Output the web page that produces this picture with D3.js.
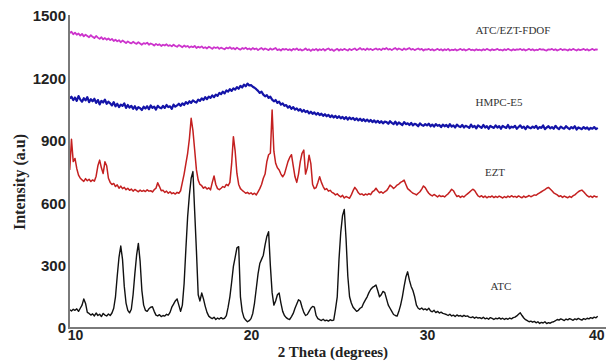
<!DOCTYPE html>
<html>
<head>
<meta charset="utf-8">
<script src="https://cdn.jsdelivr.net/npm/d3@7"></script>
<style>
  html, body { margin: 0; padding: 0; background: #fff; }
  svg { display: block; }
</style>
</head>
<body>
<svg id="chart" width="606" height="362"></svg>
<script>
// ---------- DATA ----------
const twoTheta = [
  9.7,9.8,9.9,
  10.0,10.1,10.2,10.3,10.4,10.5,10.6,10.7,10.8,10.9,
  11.0,11.1,11.2,11.3,11.4,11.5,11.6,11.7,11.8,11.9,
  12.0,12.1,12.2,12.3,12.4,12.5,12.6,12.7,12.8,12.9,
  13.0,13.1,13.2,13.3,13.4,13.5,13.6,13.7,13.8,13.9,
  14.0,14.1,14.2,14.3,14.4,14.5,14.6,14.7,14.8,14.9,
  15.0,15.1,15.2,15.3,15.4,15.5,15.6,15.7,15.8,15.9,
  16.0,16.1,16.2,16.3,16.4,16.5,16.6,16.7,16.8,16.9,
  17.0,17.1,17.2,17.3,17.4,17.5,17.6,17.7,17.8,17.9,
  18.0,18.1,18.2,18.3,18.4,18.5,18.6,18.7,18.8,18.9,
  19.0,19.1,19.2,19.3,19.4,19.5,19.6,19.7,19.8,19.9,
  20.0,20.1,20.2,20.3,20.4,20.5,20.6,20.7,20.8,20.9,
  21.0,21.1,21.2,21.3,21.4,21.5,21.6,21.7,21.8,21.9,
  22.0,22.1,22.2,22.3,22.4,22.5,22.6,22.7,22.8,22.9,
  23.0,23.1,23.2,23.3,23.4,23.5,23.6,23.7,23.8,23.9,
  24.0,24.1,24.2,24.3,24.4,24.5,24.6,24.7,24.8,24.9,
  25.0,25.1,25.2,25.3,25.4,25.5,25.6,25.7,25.8,25.9,
  26.0,26.1,26.2,26.3,26.4,26.5,26.6,26.7,26.8,26.9,
  27.0,27.1,27.2,27.3,27.4,27.5,27.6,27.7,27.8,27.9,
  28.0,28.1,28.2,28.3,28.4,28.5,28.6,28.7,28.8,28.9,
  29.0,29.1,29.2,29.3,29.4,29.5,29.6,29.7,29.8,29.9,
  30.0,30.1,30.2,30.3,30.4,30.5,30.6,30.7,30.8,30.9,
  31.0,31.1,31.2,31.3,31.4,31.5,31.6,31.7,31.8,31.9,
  32.0,32.1,32.2,32.3,32.4,32.5,32.6,32.7,32.8,32.9,
  33.0,33.1,33.2,33.3,33.4,33.5,33.6,33.7,33.8,33.9,
  34.0,34.1,34.2,34.3,34.4,34.5,34.6,34.7,34.8,34.9,
  35.0,35.1,35.2,35.3,35.4,35.5,35.6,35.7,35.8,35.9,
  36.0,36.1,36.2,36.3,36.4,36.5,36.6,36.7,36.8,36.9,
  37.0,37.1,37.2,37.3,37.4,37.5,37.6,37.7,37.8,37.9,
  38.0,38.1,38.2,38.3,38.4,38.5,38.6,38.7,38.8,38.9,
  39.0,39.1,39.2,39.3,39.4,39.5,39.6,39.7
];

const atc = [
  88,82,90,
  85,92,80,95,110,140,118,75,70,62,
  68,58,72,60,66,55,70,62,58,67,
  60,72,95,150,250,340,394,330,200,120,
  85,73,90,160,260,350,407,320,180,110,
  85,80,92,100,102,80,62,58,64,55,
  60,57,66,62,75,100,115,130,140,110,
  80,110,214,380,535,640,720,752,560,370,
  160,130,168,140,104,75,57,50,45,52,
  41,48,43,50,44,47,60,100,150,220,
  296,340,385,391,150,80,50,38,30,35,
  45,70,120,190,260,310,330,350,400,440,
  463,300,170,110,130,160,168,120,80,60,
  50,44,41,55,70,95,115,136,130,100,
  75,60,65,80,95,104,100,60,45,40,
  36,42,35,38,33,40,36,38,90,150,
  330,460,540,570,430,250,150,120,100,90,
  80,85,95,100,120,135,150,170,185,195,
  200,207,180,150,160,176,170,140,110,95,
  80,65,60,57,80,110,150,200,245,270,
  230,200,180,150,110,95,90,96,88,92,
  86,95,82,78,85,74,80,72,76,70,
  68,65,60,66,58,62,55,63,57,60,
  55,61,56,58,52,50,54,47,52,48,
  50,45,52,44,48,42,50,46,41,47,
  44,49,43,47,41,46,42,48,44,50,
  52,58,66,73,60,48,40,35,30,33,
  28,32,25,30,22,27,24,30,21,26,
  23,28,30,35,41,38,44,40,36,43,
  39,45,41,37,44,40,46,42,38,45,
  41,47,44,50,46,52,49,57
];

const ezt = [
  760,907,800,
  815,767,735,720,712,705,718,708,715,704,
  712,706,730,780,807,770,743,799,780,720,
  700,690,695,680,688,672,682,670,676,665,
  672,662,668,658,666,660,655,663,657,662,
  656,664,658,660,654,665,672,698,680,660,
  662,652,658,648,655,646,650,644,652,648,
  660,700,740,790,840,910,1008,950,856,760,
  711,690,684,672,678,668,674,664,700,731,
  690,670,665,672,680,676,690,684,700,790,
  920,850,743,690,670,662,655,648,652,645,
  650,642,648,640,655,670,690,720,740,800,
  833,840,1048,850,792,770,760,740,727,740,
  770,800,820,833,780,727,700,740,800,840,
  855,740,770,831,790,690,670,675,700,727,
  700,680,665,670,658,662,652,648,640,645,
  636,630,638,625,632,628,624,640,660,676,
  665,650,642,645,638,644,640,646,641,655,
  660,672,660,650,655,648,655,660,672,687,
  680,671,678,687,692,700,705,711,690,670,
  663,655,648,645,640,648,655,668,683,675,
  660,648,640,635,642,636,630,638,632,635,
  630,638,645,655,667,660,645,632,636,628,
  634,630,638,645,652,660,667,662,648,635,
  630,636,628,634,626,632,629,635,627,633,
  628,634,630,625,632,627,634,629,636,630,
  633,628,635,630,626,634,628,632,637,631,
  635,640,638,645,650,655,660,665,672,676,
  668,660,650,645,640,632,636,628,634,630,
  626,633,628,636,640,648,655,660,663,655,
  645,636,630,634,628,635,630,632
];

const hmpc = [
  1104,1112,1096,
  1108,1092,1115,1098,1088,1105,1094,1110,1086,1100,
  1090,1102,1082,1096,1075,1092,1084,1098,1078,1088,
  1080,1070,1086,1066,1078,1062,1074,1068,1080,1058,
  1072,1060,1068,1054,1066,1050,1062,1057,1048,1064,
  1055,1066,1052,1070,1058,1064,1050,1068,1060,1056,
  1068,1058,1072,1062,1066,1054,1074,1064,1070,1078,
  1068,1080,1072,1086,1078,1090,1082,1094,1088,1084,
  1098,1092,1104,1096,1110,1100,1112,1106,1118,1110,
  1122,1116,1130,1124,1136,1128,1142,1136,1148,1140,
  1152,1146,1158,1150,1164,1156,1170,1162,1175,1166,
  1168,1160,1155,1148,1140,1130,1136,1122,1114,1120,
  1106,1112,1098,1090,1096,1082,1088,1074,1080,1068,
  1072,1060,1066,1054,1062,1050,1056,1045,1052,1040,
  1048,1038,1044,1032,1040,1030,1036,1026,1034,1024,
  1030,1020,1028,1018,1025,1014,1022,1012,1020,1010,
  1018,1008,1015,1005,1014,1002,1012,1004,1010,1000,
  1008,998,1006,996,1004,994,1002,992,1000,990,
  998,988,996,986,994,984,992,990,982,994,
  986,980,992,978,988,982,976,990,980,984,
  976,986,974,982,978,970,984,976,972,980,
  974,982,970,978,968,980,972,976,966,978,
  970,976,966,980,968,974,964,978,970,966,
  976,964,972,968,962,978,966,972,960,974,
  968,962,976,964,970,958,972,966,962,974,
  964,970,958,972,966,962,976,960,968,964,
  972,958,966,974,962,968,956,970,964,960,
  968,962,972,958,966,962,974,956,964,970,
  960,966,958,972,962,956,968,962,958,970,
  962,956,966,960,970,954,964,960,956,966,
  958,964,954,962,958,966,956,962
];

const fdof = [
  1418,1424,1412,
  1420,1410,1416,1406,1414,1402,1410,1404,1398,1408,
  1400,1394,1404,1396,1390,1398,1388,1394,1386,1392,
  1384,1390,1380,1386,1378,1384,1374,1382,1376,1370,
  1378,1372,1368,1376,1370,1366,1374,1368,1362,1370,
  1366,1372,1362,1368,1364,1358,1366,1360,1364,1356,
  1362,1358,1364,1356,1360,1354,1362,1356,1352,1360,
  1356,1350,1358,1352,1356,1348,1354,1350,1356,1346,
  1352,1348,1354,1346,1350,1344,1352,1348,1342,1350,
  1346,1350,1342,1348,1344,1340,1348,1344,1350,1342,
  1346,1340,1348,1342,1338,1346,1342,1348,1340,1344,
  1338,1346,1340,1344,1336,1342,1346,1338,1344,1340,
  1336,1344,1338,1342,1346,1336,1340,1334,1342,1338,
  1342,1336,1340,1334,1342,1338,1344,1336,1340,1334,
  1338,1344,1336,1340,1332,1340,1336,1342,1334,1340,
  1336,1342,1334,1340,1344,1336,1340,1332,1338,1342,
  1334,1340,1336,1342,1338,1334,1342,1336,1340,1344,
  1336,1340,1346,1338,1342,1336,1344,1338,1342,1336,
  1340,1344,1338,1342,1336,1344,1340,1346,1338,1342,
  1336,1342,1346,1338,1344,1340,1336,1344,1338,1342,
  1346,1338,1342,1336,1340,1344,1338,1342,1334,1340,
  1338,1342,1336,1340,1334,1338,1342,1336,1340,1334,
  1340,1336,1342,1334,1338,1336,1340,1334,1338,1342,
  1336,1340,1334,1338,1342,1336,1338,1334,1340,1336,
  1338,1334,1340,1336,1342,1338,1334,1340,1336,1338,
  1342,1336,1338,1334,1340,1336,1342,1338,1334,1340,
  1336,1340,1338,1342,1336,1340,1334,1338,1342,1336,
  1340,1334,1338,1336,1342,1338,1340,1336,1334,1340,
  1338,1342,1336,1340,1334,1338,1342,1336,1340,1338,
  1334,1340,1336,1342,1338,1334,1340,1336,1338,1342,
  1336,1340,1334,1338,1342,1336,1340,1338
];

const seriesNames  = ["ATC/EZT-FDOF", "HMPC-E5", "EZT", "ATC"];
const seriesColors = ["#cc33cc", "#1414a8", "#c42020", "#111111"];
const seriesWidths = [1.8, 2.2, 1.5, 1.4];
const xTicks = [10, 20, 30, 40];
const yTicks = [0, 300, 600, 900, 1200, 1500];
const xTitle = "2 Theta (degrees)";
const yTitle = "Intensity (a.u)";

// ---------- CHART ----------
const svg = d3.select("#chart");
const x = d3.scaleLinear().domain([10, 40]).range([75, 603]);
const y = d3.scaleLinear().domain([0, 1500]).range([328, 16]);
const axisX0 = 69;

const allSeries = [fdof, hmpc, ezt, atc];

const line = d3.line()
  .x(d => x(d[0]))
  .y(d => y(d[1]));

allSeries.forEach((vals, k) => {
  const n = Math.min(vals.length, twoTheta.length);
  const pts = d3.range(n).map(i => [twoTheta[i], vals[i]]);
  svg.append("path")
    .datum(pts)
    .attr("fill", "none")
    .attr("stroke", seriesColors[k])
    .attr("stroke-width", seriesWidths[k])
    .attr("stroke-linejoin", "round")
    .attr("d", line);
});

// axes lines
svg.append("line")
  .attr("x1", axisX0).attr("x2", axisX0)
  .attr("y1", y(1500) - 1).attr("y2", y(0) + 1)
  .attr("stroke", "#7a7a7a").attr("stroke-width", 2);
svg.append("line")
  .attr("x1", axisX0).attr("x2", 606)
  .attr("y1", y(0)).attr("y2", y(0))
  .attr("stroke", "#7a7a7a").attr("stroke-width", 2);

// y axis tick labels
const yAxis = d3.axisLeft(y).tickValues(yTicks).tickSize(0).tickPadding(3).tickFormat(d3.format("d"));
const gy = svg.append("g").attr("transform", `translate(${axisX0},0)`).call(yAxis);
gy.select(".domain").remove();
gy.selectAll("text")
  .attr("fill", "#222")
  .style("font-family", "'Liberation Sans', Arial, sans-serif")
  .style("font-weight", "bold")
  .style("font-size", "15px");

// x axis tick labels
const xAxis = d3.axisBottom(x).tickValues(xTicks).tickSize(0).tickPadding(2).tickFormat(d3.format("d"));
const gx = svg.append("g").attr("transform", `translate(0,${y(0)})`).call(xAxis);
gx.select(".domain").remove();
gx.selectAll("text")
  .attr("fill", "#222")
  .style("font-family", "'Liberation Sans', Arial, sans-serif")
  .style("font-weight", "bold")
  .style("font-size", "14px");
// keep the last label inside the canvas
gx.selectAll(".tick").filter(d => d === 40).select("text")
  .attr("text-anchor", "end").attr("dx", "1");

// axis titles
svg.append("text")
  .attr("x", 333).attr("y", 357)
  .attr("text-anchor", "middle")
  .attr("fill", "#222")
  .style("font-family", "'Liberation Serif', 'Times New Roman', serif")
  .style("font-weight", "bold")
  .style("font-size", "15px")
  .text(xTitle);

svg.append("text")
  .attr("transform", "translate(25,182) rotate(-90)")
  .attr("text-anchor", "middle")
  .attr("fill", "#222")
  .style("font-family", "'Liberation Serif', 'Times New Roman', serif")
  .style("font-weight", "bold")
  .style("font-size", "16px")
  .text(yTitle);

// series labels
const labelPos = [[513, 34], [499, 106], [495, 176], [501, 290]];
seriesNames.forEach((name, k) => {
  svg.append("text")
    .attr("x", labelPos[k][0]).attr("y", labelPos[k][1])
    .attr("text-anchor", "middle")
    .attr("fill", "#333")
    .style("font-family", "'Liberation Serif', 'Times New Roman', serif")
    .style("font-size", "11px")
    .text(name);
});
</script>
</body>
</html>
